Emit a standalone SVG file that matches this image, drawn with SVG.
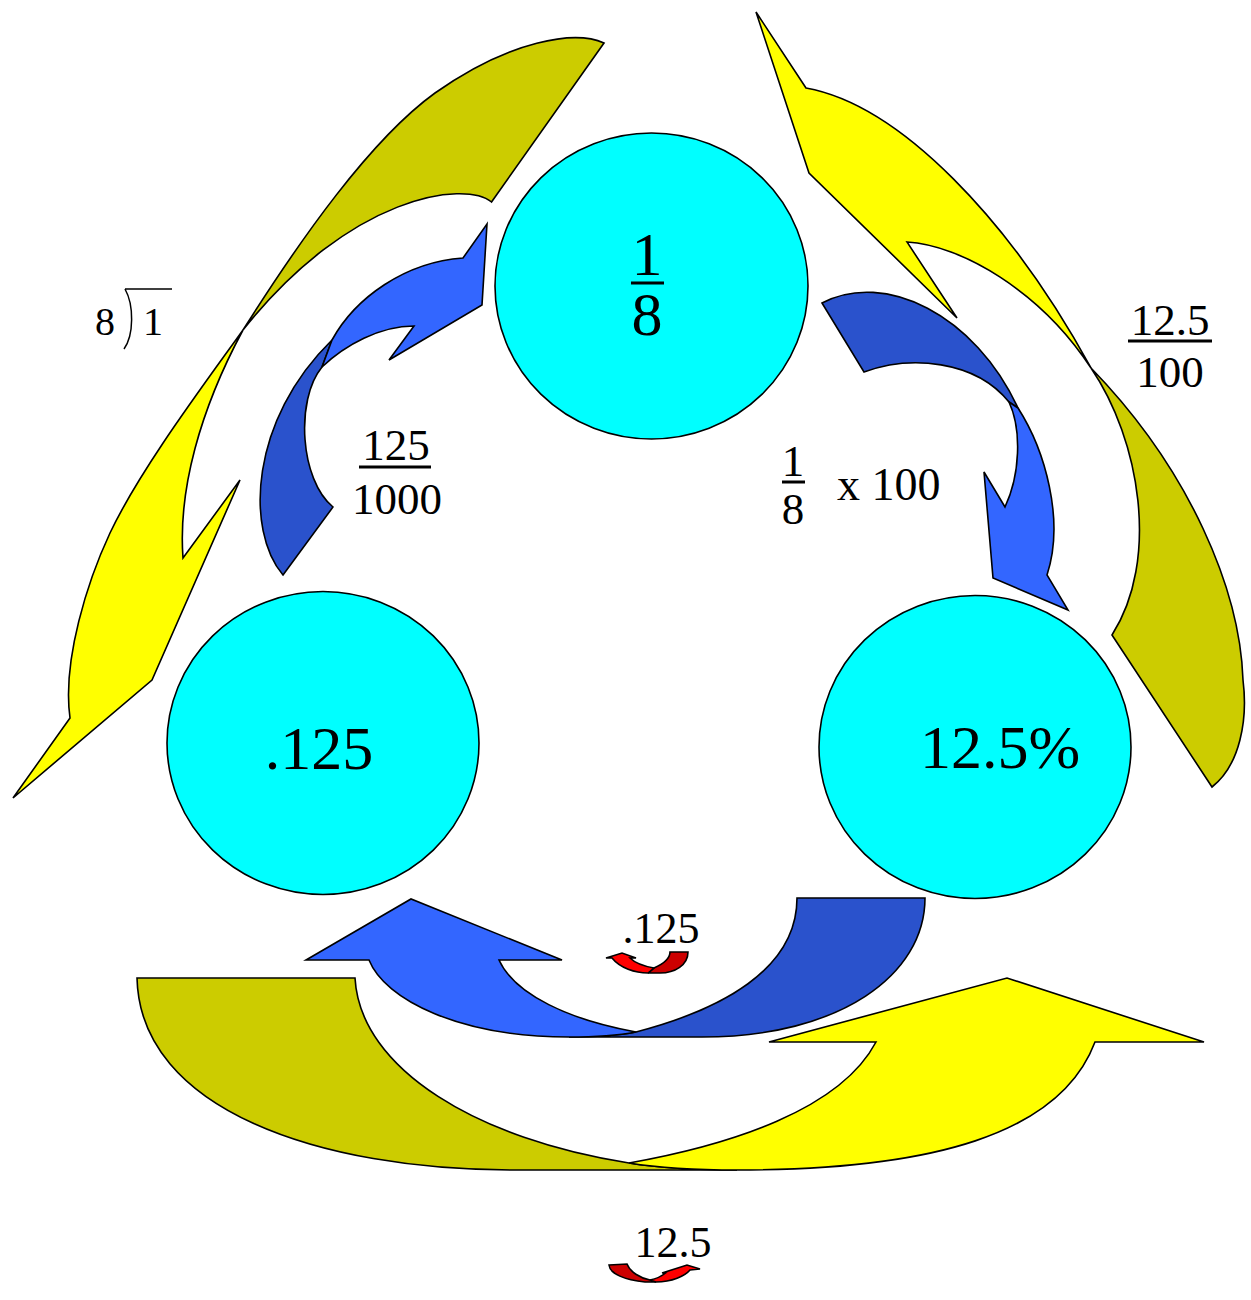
<svg xmlns="http://www.w3.org/2000/svg" width="1251" height="1300" viewBox="0 0 1251 1300">
<style>
.s{stroke:#000;stroke-width:1.6;stroke-linejoin:miter}
.cy{fill:#00ffff}
.yl{fill:#ffff00}
.ol{fill:#cccc00}
.bl{fill:#3366ff}
.db{fill:#2a52cc}
.rd{fill:#ff0000}
.dr{fill:#cc0000}
text{font-family:"Liberation Serif","Times New Roman",serif;fill:#000}
.big{font-size:62px}
.lab{font-size:45px}
.bar{stroke:#000;stroke-width:3}
.thin{stroke:#000;stroke-width:1.5;fill:none}
</style>
<rect width="1251" height="1300" fill="#fff"/>

<g id="nodes">
  <g id="node-fraction">
    <ellipse class="s cy" cx="651.5" cy="286" rx="156.5" ry="153"/>
    <text class="big" x="647" y="275" text-anchor="middle">1</text>
    <line class="bar" x1="631" y1="283" x2="664" y2="283"/>
    <text class="big" x="647" y="335" text-anchor="middle">8</text>
  </g>
  <g id="node-decimal">
    <ellipse class="s cy" cx="323" cy="743" rx="156" ry="151.5"/>
    <text class="big" x="319" y="769" text-anchor="middle">.125</text>
  </g>
  <g id="node-percent">
    <ellipse class="s cy" cx="975" cy="747" rx="156" ry="151.5"/>
    <text class="big" x="1000" y="768" text-anchor="middle">12.5%</text>
  </g>
</g>

<g id="connectors">
  <!-- outer left: 1/8 -> .125 (8)1) -->
  <g id="arrow-outer-left">
    <path class="s ol" d="M604,43 C575,30 510,40 435,93 C370,140 300,240 243,330 C350,195 465,180 491.5,202 Z"/>
    <path class="s yl" d="M243,330 C200,390 140,470 110,533 C88,580 62,660 70,718 L13,798 L152,680 L240,480 L183,558 C178,490 200,410 243,330 Z"/>
  </g>
  <!-- outer right: 12.5% -> 1/8 (12.5/100) -->
  <g id="arrow-outer-right">
    <path class="s ol" d="M1112,635 L1212,787 C1240,765 1248,720 1243,680 C1240,590 1190,470 1091,368 C1140,440 1160,560 1112,635 Z"/>
    <path class="s yl" d="M806,88 L756,12 L809,173 L957,318 L907,242 C960,245 1040,290 1091,368 C1010,220 900,105 806,88 Z"/>
  </g>
  <!-- outer bottom: .125 -> 12.5% -->
  <g id="arrow-outer-bottom">
    <path class="s ol" d="M137,978 L355,978 C360,1070 480,1140 629,1163 C660,1168 700,1170 737,1170 L513,1170 C320,1170 140,1110 137,978 Z"/>
    <path class="s yl" d="M876,1042 L769,1042 L1007,978 L1204,1042 L1095,1042 C1060,1135 930,1170 737,1170 C700,1170 660,1168 629,1163 C730,1145 840,1110 876,1042 Z"/>
  </g>
  <!-- inner left: .125 -> 1/8 (125/1000) -->
  <g id="arrow-inner-left">
    <path class="s db" d="M283,575 L333,507 C300,480 295,400 322,367 L332,340 C250,420 245,530 283,575 Z"/>
    <path class="s bl" d="M332,340 C355,298 405,262 463,258 L487,224 L482,305 L389,360 L414,326 C380,326 345,345 322,367 Z"/>
  </g>
  <!-- inner right: 1/8 -> 12.5% (1/8 x 100) -->
  <g id="arrow-inner-right">
    <path class="s db" d="M822,303 C885,270 975,315 1018,408 L1009,402 C975,360 910,355 864,372 Z"/>
    <path class="s bl" d="M1018,408 C1045,450 1065,520 1047,575 L1068,610 L993,578 L984,472 L1005,507 C1020,475 1022,430 1009,402 Z"/>
  </g>
  <!-- inner bottom: 12.5% -> .125 -->
  <g id="arrow-inner-bottom">
    <path class="s db" d="M797,898 L925,898 C925,975 840,1037 702,1037 L569,1037 C590,1037 615,1036 636,1032 C720,1010 797,970 797,898 Z"/>
    <path class="s bl" d="M369,960 C385,1000 460,1037 569,1037 C590,1037 615,1036 636,1032 C570,1020 515,995 499,960 L562,960 L411,899 L306,960 Z"/>
  </g>
  <!-- small red arrows -->
  <g id="arrow-small-decimal">
    <path class="s dr" d="M670,952 L688,952 C688,965 675,973 660,973 L648,973 C650,972 652,970 654,968 C663,964 670,958 670,952 Z"/>
    <path class="s rd" d="M612,958 C620,968 635,973 648,973 L654,968 C643,966 634,962 630,958 L636,958 L622,953 L606,958 Z"/>
  </g>
  <g id="arrow-small-percent">
    <path class="s dr" d="M609,1265 L627,1264 C630,1272 640,1278 650,1280 L656,1282 L645,1282 C625,1280 610,1274 609,1265 Z"/>
    <path class="s rd" d="M690,1270 L700,1269 L687,1265 L662,1273 L667,1272 C662,1276 656,1279 650,1280 L656,1282 C672,1282 685,1276 690,1270 Z"/>
  </g>
</g>

<g id="labels">
  <g id="label-division">
    <text class="lab" x="95" y="335" style="font-size:40px">8</text>
    <path class="thin" d="M125,289 C134,305 134,335 124,349 M125,289 L172,289"/>
    <text class="lab" x="143" y="335" style="font-size:40px">1</text>
  </g>
  <g id="label-125-1000">
    <text class="lab" x="396" y="460" text-anchor="middle">125</text>
    <line class="bar" x1="359" y1="467" x2="431" y2="467"/>
    <text class="lab" x="397" y="514" text-anchor="middle">1000</text>
  </g>
  <g id="label-12.5-100">
    <text class="lab" x="1170" y="335" text-anchor="middle">12.5</text>
    <line class="bar" x1="1128" y1="341" x2="1212" y2="341"/>
    <text class="lab" x="1170" y="387" text-anchor="middle">100</text>
  </g>
  <g id="label-times-100">
    <text class="lab" x="793" y="476" text-anchor="middle">1</text>
    <line class="bar" x1="782" y1="482" x2="805" y2="482"/>
    <text class="lab" x="793" y="524" text-anchor="middle">8</text>
    <text class="lab" x="837" y="500" style="font-size:46px">x 100</text>
  </g>
  <text class="lab" x="661" y="943" text-anchor="middle" style="font-size:44px">.125</text>
  <text class="lab" x="673" y="1257" text-anchor="middle" style="font-size:44px">12.5</text>
</g>
</svg>
